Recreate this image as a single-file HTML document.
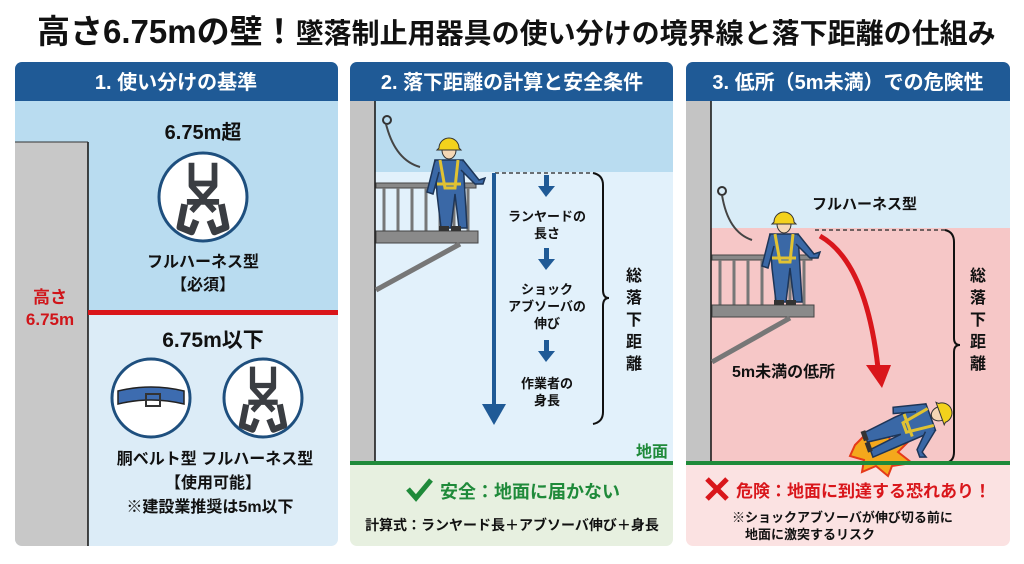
<!DOCTYPE html>
<html><head><meta charset="utf-8"><style>
body{margin:0;width:1024px;height:559px;background:#fff;overflow:hidden}
svg text{font-family:"Liberation Sans","Noto Sans CJK JP",sans-serif;font-weight:bold}
</style></head><body>
<svg width="1024" height="559" viewBox="0 0 1024 559" xmlns="http://www.w3.org/2000/svg">
<defs>
<g id="harness" fill="none" stroke="#3a3d42" stroke-width="5" stroke-linejoin="round">
<path d="M-10,-28 L-10,-8 L10,14 M10,-28 L10,-8 L-10,14 M-12,-10 H12 M-14,6 H14"/>
<path d="M-16,8 L-20,28 L-10,32 L-6,22 M16,8 L20,28 L10,32 L6,22" stroke-width="6"/>
</g>
<g id="worker">
<path d="M-14,-38 L14,-38 L18,30 L10,30 L6,-4 L2,30 L-8,30 L-12,-4 Z" fill="#3a68a6" stroke="#1d3557" stroke-width="1.5"/>
<path d="M-14,-38 L-22,-6 L-16,-4 L-10,-26 M14,-38 L30,-18 L36,-20 L34,-14 L26,-14 L12,-28" fill="#3a68a6" stroke="#1d3557" stroke-width="1.5"/>
<path d="M-9,-38 L-4,-10 L6,-10 L9,-38 M-12,-14 H12" fill="none" stroke="#e0c232" stroke-width="3"/>
<ellipse cx="0" cy="-48" rx="7" ry="9" fill="#f5d7b5" stroke="#333" stroke-width="1"/>
<path d="M-10,-50 A10,10 0 0 1 10,-50 L12,-48 H-12 Z" fill="#f3d21c" stroke="#333" stroke-width="1"/>
<rect x="-10" y="28" width="10" height="5" fill="#333"/><rect x="2" y="28" width="10" height="5" fill="#333"/>
</g>
</defs>

<text x="37" y="43" font-size="33" fill="#111">高さ6.75mの壁！<tspan font-size="28">墜落制止用器具の使い分けの境界線と落下距離の仕組み</tspan></text>

<!-- Panel 1 -->
<rect x="15" y="62" width="323" height="484" rx="7" fill="#dcecf7"/>
<rect x="15" y="101" width="323" height="212" fill="#b9dcf0"/>
<path d="M15,101 V69 a7,7 0 0 1 7,-7 H331 a7,7 0 0 1 7,7 V101 Z" fill="#1f5a96"/>
<text x="176" y="89" font-size="20" fill="#fff" text-anchor="middle">1. 使い分けの基準</text>
<path d="M15,142 H88 V546 H22 a7,7 0 0 1 -7,-7 Z" fill="#c8c8c8"/>
<line x1="88" y1="142" x2="88" y2="546" stroke="#111" stroke-width="1.5"/>
<line x1="15" y1="142" x2="88" y2="142" stroke="#333" stroke-width="1"/>
<rect x="88" y="310" width="250" height="5" fill="#d9161b"/>
<text x="50" y="303" font-size="17" fill="#d0151a" text-anchor="middle">高さ</text>
<text x="50" y="325" font-size="17" fill="#d0151a" text-anchor="middle">6.75m</text>
<text x="203" y="139" font-size="20" fill="#111" text-anchor="middle">6.75m超</text>
<circle cx="203" cy="197" r="44" fill="#fff" stroke="#1e4f7e" stroke-width="3"/>
<use href="#harness" transform="translate(203,195) scale(1.15)"/>
<text x="203" y="267" font-size="16" fill="#111" text-anchor="middle">フルハーネス型</text>
<text x="203" y="290" font-size="16" fill="#111" text-anchor="middle">【必須】</text>
<text x="213" y="347" font-size="21" fill="#111" text-anchor="middle">6.75m以下</text>
<circle cx="151" cy="398" r="39" fill="#fff" stroke="#1e4f7e" stroke-width="3"/>
<path d="M118,391 Q151,383 184,391 V404 Q151,396 118,404 Z" fill="#3d6cb0" stroke="#222" stroke-width="1.5"/>
<rect x="146" y="394" width="14" height="12" fill="none" stroke="#333" stroke-width="2"/>
<circle cx="263" cy="398" r="39" fill="#fff" stroke="#1e4f7e" stroke-width="3"/>
<use href="#harness" transform="translate(263,396) scale(1.05)"/>
<text x="215" y="464" font-size="16" fill="#111" text-anchor="middle">胴ベルト型  フルハーネス型</text>
<text x="213" y="488" font-size="16" fill="#111" text-anchor="middle">【使用可能】</text>
<text x="210" y="512" font-size="16" fill="#111" text-anchor="middle">※建設業推奨は5m以下</text>

<!-- Panel 2 -->
<rect x="350" y="62" width="323" height="484" rx="7" fill="#e7f0e0"/>
<rect x="350" y="101" width="323" height="362" fill="#e2f1fb"/>
<rect x="350" y="101" width="323" height="71" fill="#b9dcf0"/>
<path d="M350,101 V69 a7,7 0 0 1 7,-7 H666 a7,7 0 0 1 7,7 V101 Z" fill="#1f5a96"/>
<text x="512" y="89" font-size="20" fill="#fff" text-anchor="middle">2. 落下距離の計算と安全条件</text>
<rect x="350" y="101" width="25" height="362" fill="#c4c4c4"/>
<line x1="375" y1="101" x2="375" y2="463" stroke="#111" stroke-width="1.5"/>
<circle cx="387" cy="120" r="4" fill="none" stroke="#333" stroke-width="2"/>
<path d="M386,124 Q395,160 420,167" fill="none" stroke="#444" stroke-width="2"/>
<rect x="376" y="183" width="100" height="5" fill="#888" stroke="#444"/>
<g stroke="#777" stroke-width="3"><line x1="384" y1="188" x2="384" y2="231"/><line x1="398" y1="188" x2="398" y2="231"/><line x1="412" y1="188" x2="412" y2="231"/><line x1="426" y1="188" x2="426" y2="231"/><line x1="440" y1="188" x2="440" y2="231"/><line x1="454" y1="188" x2="454" y2="231"/><line x1="468" y1="188" x2="468" y2="231"/></g>
<rect x="376" y="231" width="102" height="12" fill="#8a8a8a" stroke="#444"/>
<line x1="376" y1="290" x2="460" y2="244" stroke="#777" stroke-width="5"/>
<use href="#worker" x="449" y="198"/>
<line x1="495" y1="173" x2="593" y2="173" stroke="#222" stroke-width="1.2" stroke-dasharray="4,3"/>
<line x1="494" y1="173" x2="494" y2="408" stroke="#1f5a96" stroke-width="4"/>
<polygon points="482,404 506,404 494,425" fill="#1f5a96"/>
<g fill="#1f5a96"><rect x="544" y="175" width="5" height="12"/><polygon points="538,186 555,186 546,197"/>
<rect x="544" y="248" width="5" height="12"/><polygon points="538,259 555,259 546,270"/>
<rect x="544" y="340" width="5" height="12"/><polygon points="538,351 555,351 546,362"/></g>
<g font-size="13" fill="#111" text-anchor="middle">
<text x="547" y="221">ランヤードの</text><text x="547" y="238">長さ</text>
<text x="547" y="294">ショック</text><text x="547" y="311">アブソーバの</text><text x="547" y="328">伸び</text>
<text x="547" y="388">作業者の</text><text x="547" y="405">身長</text></g>
<path d="M593,173 Q603,175 603,185 V290 Q603,298 609,298 Q603,298 603,306 V412 Q603,422 593,424" fill="none" stroke="#111" stroke-width="2"/>
<g font-size="16" fill="#111" text-anchor="middle"><text x="634" y="281">総</text><text x="634" y="303">落</text><text x="634" y="325">下</text><text x="634" y="347">距</text><text x="634" y="369">離</text></g>
<text x="668" y="457" font-size="16" fill="#1f8a3a" text-anchor="end">地面</text>
<rect x="350" y="461" width="323" height="4" fill="#1f8a3a"/>
<path d="M408,489 L416,498 L431,480" fill="none" stroke="#1f8a3a" stroke-width="5"/>
<text x="440" y="498" font-size="18" fill="#1f8a3a">安全：地面に届かない</text>
<text x="512" y="530" font-size="14" fill="#111" text-anchor="middle">計算式：ランヤード長＋アブソーバ伸び＋身長</text>

<!-- Panel 3 -->
<rect x="686" y="62" width="324" height="484" rx="7" fill="#fbe2e2"/>
<rect x="686" y="101" width="324" height="362" fill="#f6c7c7"/>
<rect x="686" y="101" width="324" height="127" fill="#d9ecf7"/>
<path d="M686,101 V69 a7,7 0 0 1 7,-7 H1003 a7,7 0 0 1 7,7 V101 Z" fill="#1f5a96"/>
<text x="848" y="89" font-size="20" fill="#fff" text-anchor="middle">3. 低所（5m未満）での危険性</text>
<rect x="686" y="101" width="25" height="362" fill="#c4c4c4"/>
<line x1="711" y1="101" x2="711" y2="463" stroke="#111" stroke-width="1.5"/>
<circle cx="722" cy="191" r="4" fill="none" stroke="#333" stroke-width="2"/>
<path d="M722,195 Q728,232 752,240" fill="none" stroke="#444" stroke-width="2"/>
<rect x="712" y="255" width="100" height="5" fill="#888" stroke="#444"/>
<g stroke="#777" stroke-width="3"><line x1="720" y1="260" x2="720" y2="305"/><line x1="734" y1="260" x2="734" y2="305"/><line x1="748" y1="260" x2="748" y2="305"/><line x1="762" y1="260" x2="762" y2="305"/><line x1="776" y1="260" x2="776" y2="305"/><line x1="790" y1="260" x2="790" y2="305"/><line x1="804" y1="260" x2="804" y2="305"/></g>
<rect x="712" y="305" width="102" height="12" fill="#8a8a8a" stroke="#444"/>
<line x1="712" y1="362" x2="790" y2="318" stroke="#777" stroke-width="5"/>
<use href="#worker" x="784" y="272"/>
<text x="812" y="209" font-size="15" fill="#111">フルハーネス型</text>
<line x1="815" y1="230" x2="945" y2="230" stroke="#222" stroke-width="1.2" stroke-dasharray="4,3"/>
<path d="M820,236 Q866,262 878,368" fill="none" stroke="#d9161b" stroke-width="5"/>
<polygon points="866,365 891,365 882,388" fill="#d9161b"/>
<text x="732" y="377" font-size="16" fill="#111">5m未満の低所</text>
<polygon points="855,445 868,432 872,440 888,428 890,442 910,440 898,452 912,463 892,466 888,476 876,466 862,472 864,460 850,456" fill="#f4a81c" stroke="#e53a1a" stroke-width="2"/>
<g transform="translate(895,430) rotate(70)"><use href="#worker"/></g>
<path d="M945,230 Q954,232 954,242 V338 Q954,345 960,345 Q954,345 954,352 V452 Q954,462 945,463" fill="none" stroke="#111" stroke-width="2"/>
<g font-size="16" fill="#111" text-anchor="middle"><text x="978" y="281">総</text><text x="978" y="303">落</text><text x="978" y="325">下</text><text x="978" y="347">距</text><text x="978" y="369">離</text></g>
<rect x="686" y="461" width="324" height="4" fill="#1f8a3a"/>
<path d="M707,479 L727,499 M727,479 L707,499" stroke="#d9161b" stroke-width="5"/>
<text x="736" y="497" font-size="17" fill="#d9161b">危険：地面に到達する恐れあり！</text>
<text x="732" y="522" font-size="13" fill="#111">※ショックアブソーバが伸び切る前に</text>
<text x="745" y="539" font-size="13" fill="#111">地面に激突するリスク</text>
</svg>
</body></html>
